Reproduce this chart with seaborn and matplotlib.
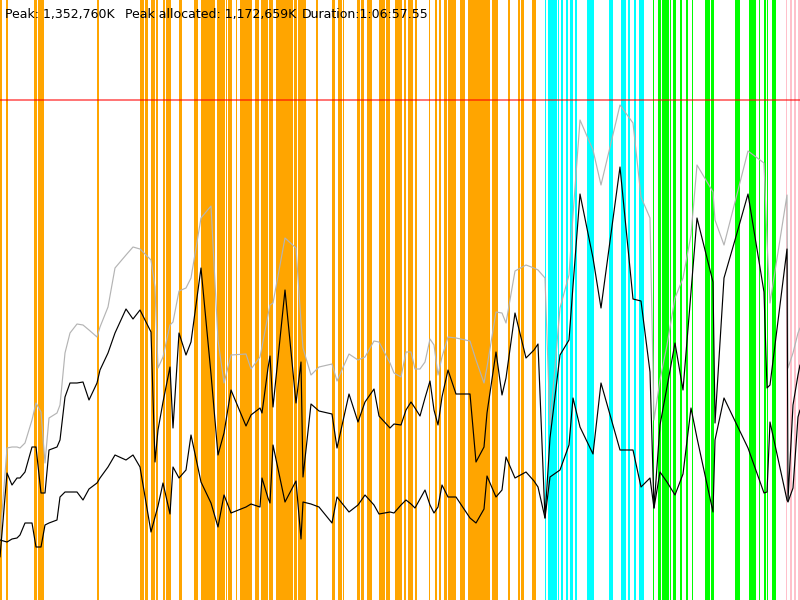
import pandas as pd
import matplotlib
matplotlib.use("Agg")
import matplotlib.pyplot as plt
import seaborn as sns

sns.set_theme(style="white")
plt.rcParams['font.family'] = ['DejaVu Sans']

# sample times (0..800 = whole run)
t = [0, 7, 12, 17, 20, 25, 32, 36, 41, 45, 49, 57, 60, 65, 70, 77, 83, 89, 97, 100, 108, 115, 126, 133,
     140, 151, 155, 158, 163, 170, 173, 179, 186, 191, 201, 211, 218, 224, 231, 246, 251, 260, 262, 268,
     270, 273, 285, 296, 301, 303, 311, 319, 332, 337, 349, 358, 365, 374, 379, 390, 394, 401,
     406, 411, 415, 420, 425, 430, 434, 438, 442, 448, 456, 470, 476, 484, 487, 496, 502, 506, 515, 526, 534,
     538, 545, 550, 560, 569, 573, 580, 593, 601, 620, 633, 641, 650, 654, 660, 667,
     675, 683, 691, 697, 713, 715, 724, 735, 748, 764, 767, 770, 787, 788, 793, 798, 800]

# memory, % of limit
mem_total = [12.0, 30.4, 30.6, 30.6, 30.4, 31.4, 36.0, 39.4, 37.6, 27.4, 36.4, 37.4, 39.0, 49.4, 53.4, 55.2, 55.0, 54.0, 52.6, 54.6, 58.6, 66.4, 69.0, 70.6,
             70.2, 68.0, 62.6, 46.4, 48.6, 55.0, 55.6, 61.8, 62.4, 64.4, 76.4, 78.8, 52.0, 43.4, 49.0, 49.2, 46.2, 48.6, 50.6, 57.0,
             59.0, 59.4, 72.4, 70.4, 55.6, 50.4, 45.0, 46.6, 47.2, 43.8, 49.2, 48.0, 48.6, 51.8, 51.6, 47.4, 45.4, 44.6,
             49.6, 49.6, 46.2, 46.2, 47.6, 52.2, 51.0, 45.0, 48.6, 52.6, 52.4, 51.8, 48.0, 43.4, 46.6, 57.6, 57.4, 55.4, 65.8, 67.0, 66.4,
             66.0, 64.4, 35.0, 58.4, 65.0, 77.0, 96.0, 90.0, 83.0, 99.0, 95.4, 80.6, 76.4, 36.0, 44.0, 51.0,
             60.4, 64.4, 73.0, 87.0, 81.6, 76.0, 71.0, 79.6, 89.8, 87.4, 72.0, 59.4, 81.0, 46.4, 49.4, 53.4, 54.4]

mem_alloc = [8.6, 25.4, 23.0, 24.4, 24.4, 25.6, 30.6, 30.6, 21.4, 21.4, 30.0, 30.6, 32.0, 40.6, 43.4, 43.4, 43.6, 40.0, 43.4, 46.0, 49.4, 53.4, 58.2, 56.2,
             58.0, 53.6, 27.6, 34.0, 39.6, 46.6, 34.4, 53.4, 49.0, 51.6, 66.4, 45.2, 29.0, 33.4, 42.0, 34.8, 37.0, 38.4, 37.4, 46.4,
             48.8, 38.6, 62.0, 39.4, 47.6, 24.6, 39.2, 37.8, 37.2, 30.4, 41.2, 35.6, 39.6, 42.2, 36.8, 34.4, 35.2, 35.0,
             38.0, 39.6, 38.4, 36.8, 40.4, 43.8, 38.0, 35.0, 40.6, 46.0, 41.2, 41.2, 27.6, 30.6, 37.4, 49.6, 41.0, 44.4, 57.4, 48.4, 50.0,
             51.2, 16.4, 32.4, 49.0, 52.0, 62.8, 81.2, 68.4, 58.4, 86.6, 60.2, 59.8, 45.6, 18.4, 35.0, 42.6,
             51.4, 42.0, 61.6, 76.4, 63.6, 35.4, 64.4, 72.0, 81.2, 61.6, 42.4, 43.0, 70.2, 20.0, 39.0, 45.0, 47.0]

mem_live = [12.0, 11.6, 12.2, 12.4, 13.0, 15.4, 15.4, 10.6, 10.6, 15.0, 15.4, 16.0, 20.6, 21.6, 21.6, 21.6, 20.0, 22.2, 23.4, 24.4, 26.6, 29.0, 28.0, 29.0,
            26.6, 13.6, 16.6, 18.8, 23.4, 17.2, 26.6, 24.4, 26.0, 33.0, 23.6, 19.4, 14.6, 21.0, 17.4, 18.6, 19.2, 18.6, 24.4, 20.4,
            19.4, 31.0, 19.6, 23.8, 12.2, 19.6, 19.2, 18.6, 15.4, 20.6, 17.6, 19.0, 21.0, 19.0, 17.2, 17.6, 17.4, 19.0,
            20.0, 19.2, 18.4, 20.2, 22.0, 19.0, 17.4, 18.6, 23.0, 20.6, 20.6, 16.4, 15.4, 18.2, 24.8, 20.6, 22.0, 28.6, 24.4, 25.6, 23.8,
            22.6, 16.4, 24.6, 26.0, 31.0, 40.4, 34.6, 29.2, 43.4, 30.0, 30.0, 22.6, 24.4, 18.4, 25.6, 23.6,
            21.0, 25.2, 38.4, 32.4, 17.6, 32.0, 40.4, 35.8, 30.4, 21.4, 21.6, 35.6, 20.0, 19.6, 22.4, 36.6, 38.0]

limit = 100

# activity spans (start, end) per phase
orange_spans = [(0, 1.7), (6, 7.7), (34, 37.2), (37.8, 44), (97, 98.5), (140, 144), (145, 148.3), (151, 155),
                (155.5, 158), (162.7, 165.3), (166, 170.7), (179, 182), (194, 197.7), (200.7, 215), (216.7, 225),
                (226, 227.3), (228.3, 231.7), (236, 237.3), (240, 251.7), (255, 259), (260.7, 268), (268.6, 272.7),
                (276, 281.5), (282, 289.5), (290, 293), (293.6, 296.7), (297.7, 305.7), (315.7, 318.3), (332, 335),
                (338.3, 342.3), (343, 344.3), (357, 359.7), (361, 364.3), (366.7, 371.7), (379, 385), (385.7, 389.7),
                (395, 401.7), (404, 405.7), (408, 413.3), (415, 417), (429.3, 430.3), (435, 437), (439, 441),
                (444, 446.7), (448.3, 451.5), (452, 455.7), (460, 465), (468.3, 476.5), (477, 490), (492.3, 498.3),
                (507.7, 509.7), (517.7, 520), (521, 524), (531.7, 536)]
cyan_spans = [(544.7, 546), (547.7, 557), (557.7, 559.3), (561.3, 562.7), (566, 568), (570.3, 572.7),
              (575.3, 576.7), (587, 593.7), (608.7, 613), (621.3, 626.3), (627.7, 630.3), (633.7, 636),
              (638.7, 643.7)]
green_spans = [(652.7, 654), (658, 661), (661.6, 669), (670, 671), (673.3, 675.7), (680, 681.7), (685.7, 688.3),
               (691.7, 692.7), (705, 710), (711, 714.3), (735, 740), (749, 751.7), (752.3, 756), (759, 760),
               (764, 765.7), (766.7, 768.3), (771.7, 775.7)]
pink_spans = [(785.7, 787), (790, 791.7), (794.3, 795.7), (798.3, 800)]

df = pd.DataFrame({"t": t, "total": mem_total, "alloc": mem_alloc, "live": mem_live})

fig = plt.figure(figsize=(8, 6), dpi=100)
ax = fig.add_axes([0, 0, 1, 1])

for spans, col in [(orange_spans, "#FFA500"), (cyan_spans, "#00FFFF"),
                   (green_spans, "#00FF00"), (pink_spans, "#FFC0CB")]:
    for a, b in spans:
        ax.axvspan(a, b, color=col, lw=0, zorder=1)

ax.axhline(limit, color="#FF0000", alpha=0.55, lw=1.4, zorder=2)

sns.lineplot(data=df, x="t", y="total", ax=ax, color="#b4b4b4", lw=0.85, zorder=3)
sns.lineplot(data=df, x="t", y="alloc", ax=ax, color="black", lw=0.85, zorder=4)
sns.lineplot(data=df, x="t", y="live", ax=ax, color="black", lw=0.85, zorder=4)

ax.set_xlim(0, 800)
ax.set_ylim(0, 120)
ax.axis("off")

ty = 1 - 18 / 600
ax.text(5 / 800, ty, "Peak: 1,352,760K", transform=ax.transAxes, fontsize=9, color="black", va="baseline", zorder=5)
ax.text(125 / 800, ty, "Peak allocated: 1,172,659K", transform=ax.transAxes, fontsize=9, color="black", va="baseline", zorder=5)
ax.text(302 / 800, ty, "Duration:1:06:57.55", transform=ax.transAxes, fontsize=9, color="black", va="baseline", zorder=5)

fig.savefig("out.png", dpi=100)
